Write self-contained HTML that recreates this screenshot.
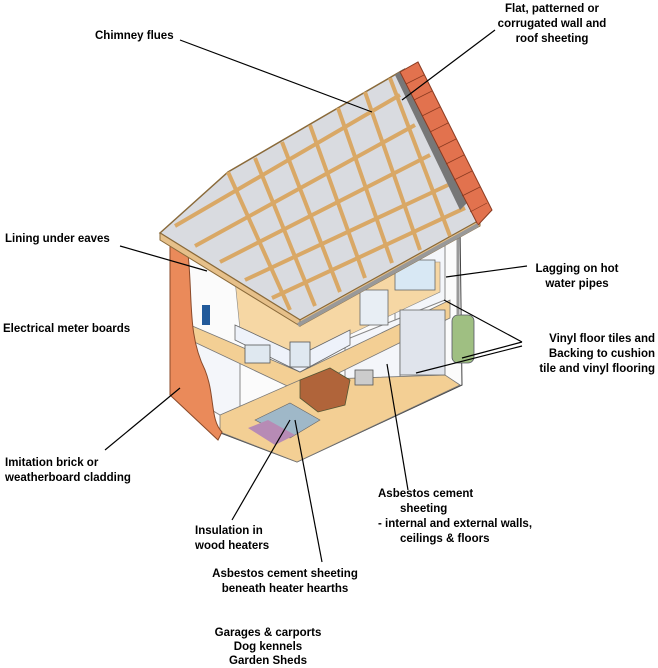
<!DOCTYPE html>
<html><head><meta charset="utf-8"><style>
html,body{margin:0;padding:0;background:#fff;}
svg{display:block}
text{font-family:"Liberation Sans",Arial,sans-serif;font-weight:bold;font-size:11.5px;fill:#000}
</style></head><body>
<svg width="658" height="668" viewBox="0 0 658 668" xmlns="http://www.w3.org/2000/svg">
<!-- house body -->
<polygon points="170,240 300,315 460,225 462,385 297,462 218,432" fill="#fbfbfb" stroke="#444" stroke-width="1"/>
<!-- interior partitions -->
<g stroke="#888" stroke-width="1" fill="#f4f6fa">
<polygon points="195,330 240,350 240,420 220,415 195,400"/>
<polygon points="345,340 400,318 400,380 345,390"/>
<polygon points="395,260 445,240 445,300 395,320"/>
</g>
<!-- floors -->
<polygon points="190,325 300,372 450,300 450,318 300,392 190,340" fill="#f3cf94" stroke="#777" stroke-width="0.8"/>
<polygon points="220,415 300,380 445,375 460,385 297,462 220,432" fill="#f3cf94" stroke="#777" stroke-width="0.8"/>
<polygon points="235,280 300,312 400,262 440,262 440,292 300,358 240,330" fill="#f6d7a4" stroke="#888" stroke-width="0.6"/>
<!-- bed -->
<polygon points="235,325 300,355 350,330 350,345 300,372 235,340" fill="#eef2fa" stroke="#666" stroke-width="0.8"/>
<!-- sofa & rug -->
<polygon points="300,380 330,368 350,380 345,405 318,412 300,398" fill="#b0643a" stroke="#553" stroke-width="0.8"/>
<polygon points="255,420 290,403 320,420 290,438" fill="#9fb8c8" stroke="#666" stroke-width="0.6"/>
<polygon points="248,428 268,420 295,435 275,445" fill="#b78bb5"/>
<!-- kitchen / bathroom details -->
<rect x="360" y="290" width="28" height="35" fill="#e8eef4" stroke="#666" stroke-width="0.8"/>
<rect x="400" y="310" width="45" height="65" fill="#e0e4ec" stroke="#666" stroke-width="0.8"/>
<rect x="395" y="260" width="40" height="30" fill="#d8e8f4" stroke="#666" stroke-width="0.8"/>
<rect x="355" y="370" width="18" height="15" fill="#ccc" stroke="#555" stroke-width="0.8"/>
<rect x="245" y="345" width="25" height="18" fill="#dfe8f0" stroke="#555" stroke-width="0.8"/>
<rect x="290" y="342" width="20" height="25" fill="#dfe8f0" stroke="#555" stroke-width="0.8"/>
<rect x="202" y="305" width="8" height="20" fill="#225a9a"/>
<!-- hot water cylinder -->
<rect x="452" y="315" width="22" height="48" rx="6" fill="#9fbf82" stroke="#556" stroke-width="0.8"/>
<line x1="458" y1="225" x2="458" y2="315" stroke="#999" stroke-width="3"/>
<!-- brick cladding -->
<path d="M170,240 L185,232 C195,290 185,330 205,370 C215,395 210,420 222,432 L218,440 L170,395 Z" fill="#ea8a5a" stroke="#8a4a2a" stroke-width="1"/>
<!-- roof -->
<polygon points="160,233 228,172 403,70 480,220 300,320" fill="#d9dbe0" stroke="#8a6a3a" stroke-width="1.5"/>
<polygon points="160,233 300,320 300,326 160,240" fill="#e6c08a" stroke="#8a6a3a" stroke-width="1"/>
<polygon points="300,320 480,220 480,226 300,326" fill="#e6c08a" stroke="#8a6a3a" stroke-width="1"/>
<g stroke="#d9a866" stroke-width="4">
<line x1="228" y1="172" x2="290" y2="310"/>
<line x1="255" y1="158" x2="315" y2="306"/>
<line x1="282" y1="142" x2="340" y2="292"/>
<line x1="310" y1="125" x2="365" y2="278"/>
<line x1="338" y1="108" x2="392" y2="263"/>
<line x1="365" y1="92" x2="420" y2="250"/>
<line x1="390" y1="78" x2="450" y2="236"/>
<line x1="175" y1="226" x2="400" y2="95"/>
<line x1="195" y1="246" x2="415" y2="125"/>
<line x1="220" y1="262" x2="430" y2="155"/>
<line x1="245" y1="280" x2="448" y2="185"/>
<line x1="272" y1="298" x2="465" y2="208"/>
</g>
<polygon points="395,75 405,68 470,200 460,210" fill="#777"/>
<!-- tiles -->
<polygon points="400,72 418,62 492,210 478,225" fill="#e2724e" stroke="#8a3a20" stroke-width="1"/>
<g stroke="#8a3a20" stroke-width="0.7">
<line x1="406" y1="84" x2="424" y2="75"/><line x1="414" y1="100" x2="432" y2="91"/><line x1="422" y1="116" x2="440" y2="107"/>
<line x1="430" y1="132" x2="448" y2="123"/><line x1="438" y1="148" x2="456" y2="139"/><line x1="446" y1="164" x2="464" y2="155"/>
<line x1="454" y1="180" x2="472" y2="171"/><line x1="462" y1="196" x2="480" y2="187"/><line x1="470" y1="212" x2="487" y2="203"/>
</g>
<line x1="298" y1="325" x2="478" y2="225" stroke="#999" stroke-width="4"/>
<!-- leader lines -->
<g stroke="#000" stroke-width="1.2">
<line x1="180" y1="40" x2="372" y2="112"/>
<line x1="495" y1="30" x2="402" y2="100"/>
<line x1="120" y1="246" x2="207" y2="271"/>
<line x1="527" y1="266" x2="446" y2="277"/>
<line x1="522" y1="342" x2="444" y2="300"/>
<line x1="522" y1="342" x2="462" y2="358"/>
<line x1="522" y1="346" x2="416" y2="373"/>
<line x1="105" y1="450" x2="180" y2="388"/>
<line x1="408" y1="490" x2="387" y2="364"/>
<line x1="232" y1="520" x2="290" y2="420"/>
<line x1="322" y1="562" x2="295" y2="420"/>
</g>
<!-- labels -->
<text x="95" y="39">Chimney flues</text>
<text x="552" y="12" text-anchor="middle">Flat, patterned or</text>
<text x="552" y="27" text-anchor="middle">corrugated wall and</text>
<text x="552" y="42" text-anchor="middle">roof sheeting</text>
<text x="5" y="242">Lining under eaves</text>
<text x="577" y="272" text-anchor="middle">Lagging on hot</text>
<text x="577" y="287" text-anchor="middle">water pipes</text>
<text x="3" y="332">Electrical meter boards</text>
<text x="655" y="342" text-anchor="end">Vinyl floor tiles and</text>
<text x="655" y="357" text-anchor="end">Backing to cushion</text>
<text x="655" y="372" text-anchor="end">tile and vinyl flooring</text>
<text x="5" y="466">Imitation brick or</text>
<text x="5" y="481">weatherboard cladding</text>
<text x="378" y="497">Asbestos cement</text>
<text x="400" y="512">sheeting</text>
<text x="378" y="527"> -  internal and external walls,</text>
<text x="400" y="542">ceilings &amp; floors</text>
<text x="195" y="534">Insulation in</text>
<text x="195" y="549">wood heaters</text>
<text x="285" y="577" text-anchor="middle">Asbestos cement sheeting</text>
<text x="285" y="592" text-anchor="middle">beneath heater hearths</text>
<text x="268" y="636" text-anchor="middle">Garages &amp; carports</text>
<text x="268" y="650" text-anchor="middle">Dog kennels</text>
<text x="268" y="664" text-anchor="middle">Garden Sheds</text>
</svg>
</body></html>
